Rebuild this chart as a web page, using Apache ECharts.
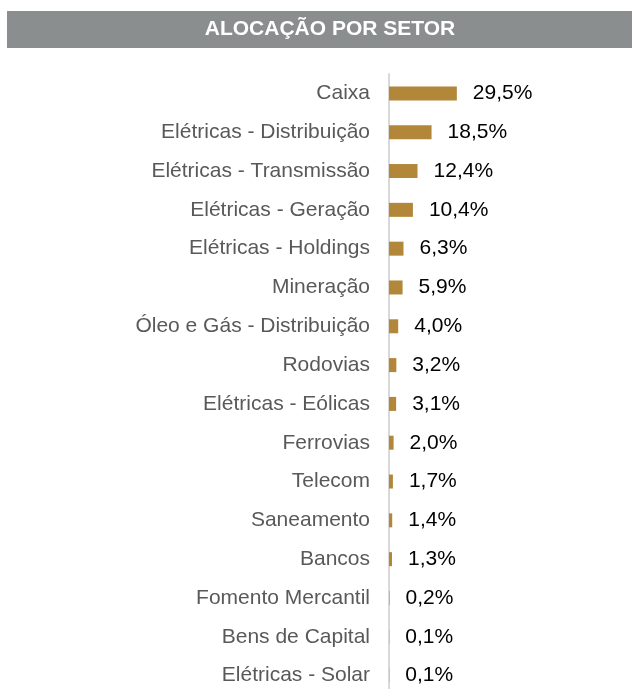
<!DOCTYPE html>
<html>
<head>
<meta charset="utf-8">
<script src="https://cdn.jsdelivr.net/npm/echarts@6/dist/echarts.min.js"></script>
<style>
  html, body { margin: 0; padding: 0; background: #fff; overflow: hidden; }
  #chart { width: 632px; height: 695px; }
</style>
</head>
<body>
<div id="chart"></div>
<script>
// dados
var setores = [
  'Caixa', 'Elétricas - Distribuição', 'Elétricas - Transmissão', 'Elétricas - Geração',
  'Elétricas - Holdings', 'Mineração', 'Óleo e Gás - Distribuição', 'Rodovias',
  'Elétricas - Eólicas', 'Ferrovias', 'Telecom', 'Saneamento', 'Bancos',
  'Fomento Mercantil', 'Bens de Capital', 'Elétricas - Solar'
]
var alocacao = [29.5, 18.5, 12.4, 10.4, 6.3, 5.9, 4.0, 3.2, 3.1, 2.0, 1.7, 1.4, 1.3, 0.2, 0.1, 0.1]
var titulo = 'ALOCAÇÃO POR SETOR'

var chart = echarts.init(document.getElementById('chart'), null, { renderer: 'canvas' })

chart.setOption({
  animation: false,
  textStyle: { fontFamily: 'Liberation Sans, Arial, sans-serif' },
  graphic: [
    {
      type: 'rect',
      shape: { x: 7, y: 11, width: 625, height: 37 },
      style: { fill: '#8B8E8E' }
    },
    {
      type: 'text',
      x: 330,
      y: 29,
      style: {
        text: titulo,
        fill: '#fff',
        font: 'bold 21px "Liberation Sans", Arial, sans-serif',
        textAlign: 'center',
        textVerticalAlign: 'middle'
      }
    }
  ],
  grid: { left: 389, top: 74, width: 230, bottom: 0 },
  xAxis: {
    type: 'value',
    min: 0,
    max: 100,
    show: false
  },
  yAxis: {
    type: 'category',
    inverse: true,
    data: setores,
    offset: 1,
    axisLine: { show: true, lineStyle: { color: '#D9D9D9', width: 2 } },
    axisTick: { show: false },
    axisLabel: { color: '#595959', fontSize: 21, margin: 18, padding: [4, 0, 0, 0] }
  },
  series: [
    {
      type: 'bar',
      data: alocacao,
      barWidth: 14,
      itemStyle: { color: '#B3873A' },
      label: {
        show: true,
        position: 'right',
        distance: 16,
        color: '#000',
        fontSize: 21,
        padding: [4, 0, 0, 0],
        formatter: function (p) {
          return p.value.toFixed(1).replace('.', ',') + '%'
        }
      }
    }
  ]
})
</script>
</body>
</html>
